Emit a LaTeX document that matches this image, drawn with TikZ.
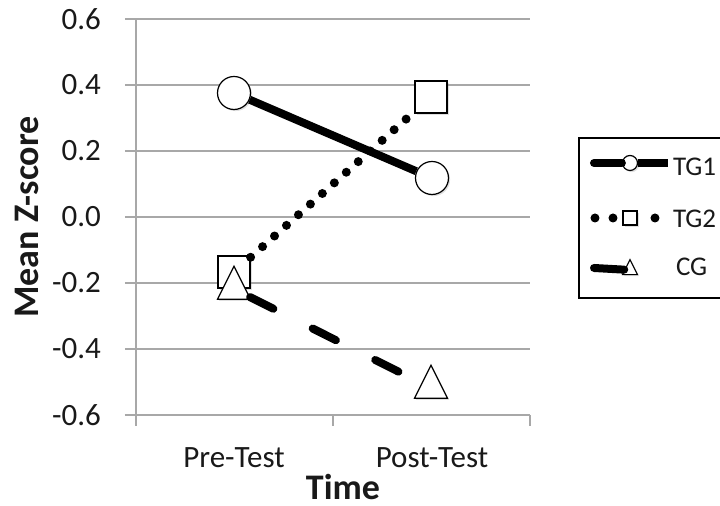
\documentclass[tikz,border=0pt]{standalone}
\usepackage{fontspec}
\setmainfont{Carlito}
\usepackage{tikz}
\usetikzlibrary{shapes.geometric, shadows}
\definecolor{gridgray}{RGB}{168,168,168}
\definecolor{inkgray}{RGB}{25,25,25}

\begin{document}
\begin{tikzpicture}[x=0.5pt,y=-0.5pt]
        \tikzstyle{datamark}=[draw=black, fill=white, line width=0.6pt, inner sep=0pt,
            drop shadow={shadow xshift=0.8pt, shadow yshift=-0.8pt, opacity=0.25}]
        \tikzstyle{circmark}=[datamark, circle, minimum size=16.5pt]
        \tikzstyle{boxmark}=[datamark, rectangle, minimum size=16pt]
        \tikzstyle{trimark}=[datamark, isosceles triangle, isosceles triangle stretches,
            shape border rotate=90, minimum width=16.5pt, minimum height=16.5pt]
        \tikzstyle{ticklab}=[text=inkgray, font=\fontsize{15.5}{18}\selectfont]
        \tikzstyle{axtitle}=[text=inkgray, inner sep=1pt, font=\bfseries\fontsize{18}{21}\selectfont]
        \tikzstyle{leglab}=[text=inkgray, anchor=west, font=\fontsize{13.5}{16}\selectfont]
        \tikzstyle{solidline}=[line width=4pt]
        \tikzstyle{dotline}=[line width=4.5pt, line cap=round, dash pattern=on 0pt off 8pt]
        \tikzstyle{dashline}=[line width=4pt, line cap=round, dash pattern=on 13pt off 22pt]

        \useasboundingbox (0,0) rectangle (720,506);

        % Grid lines and y labels
        \foreach \yy/\lab [count=\i] in {19/0.6, 85/0.4, 151/0.2, 217/0.0, 283/-0.2, 349/-0.4, 415/-0.6} {
            \draw[gridgray, line width=1pt] (125,\yy) -- (530,\yy);
            \node (ylab\i)[ticklab, anchor=east] at (108,\yy) {\lab};
        }

        % Axes
        \draw[gridgray, line width=1.2pt] (136,19) -- (136,426);
        \draw[gridgray, line width=1.2pt] (125,415) -- (530,415);
        \foreach \xx in {333,530}
            \draw[gridgray, line width=1.2pt] (\xx,415) -- (\xx,426);

        % Axis labels
        \node (xpre)[ticklab] at (234,458) {Pre-Test};
        \node (xpost)[ticklab] at (432,458) {Post-Test};
        \node (xtitle)[axtitle] at (343,487) {Time};
        \node (ytitle)[axtitle, rotate=90] at (27,217) {Mean Z-score};

        % Data markers
        \node (tg1pre)[circmark] at (234,93) {};
        \node (tg1post)[circmark] at (432,178) {};
        \node (tg2pre)[boxmark] at (234,272) {};
        \node (tg2post)[boxmark] at (431,97) {};
        \node (cgpre)[trimark] at (234,289) {};
        \node (cgpost)[trimark] at (431,388) {};

        % Data lines
        \draw[solidline] (tg1pre) -- (tg1post);
        \draw[dotline] (tg2pre) -- (tg2post);
        \draw[dashline] (cgpre) -- (cgpost);

        % Legend
        \draw[line width=1pt] (579,138) rectangle (724,298);

        \coordinate (lg1a) at (594,163);
        \coordinate (lg1b) at (668,163);
        \node (lg1)[circmark, minimum size=7.5pt] at (630,163) {};
        \draw[solidline, line cap=round] (lg1a) -- (lg1);
        \draw[solidline] (lg1) -- (lg1b);
        \node (lt1)[leglab] at (666,167) {TG1};

        \coordinate (lg2a) at (595,218);
        \coordinate (lg2b) at (655,218);
        \node (lg2)[boxmark, minimum size=7pt] at (630,218) {};
        \draw[dotline, dash pattern=on 0pt off 9pt] (lg2a) -- (lg2);
        \draw[dotline, dash pattern=on 0pt off 9pt] (lg2b) -- (lg2);
        \node (lt2)[leglab] at (666,219) {TG2};

        \coordinate (lg3a) at (594,268);
        \node (lg3)[trimark, minimum width=7.5pt, minimum height=7.5pt] at (630,270) {};
        \draw[solidline, line cap=round] (lg3a) -- (lg3);
        \node (lt3)[leglab] at (669,267) {CG};
    \end{tikzpicture}
\end{document}
